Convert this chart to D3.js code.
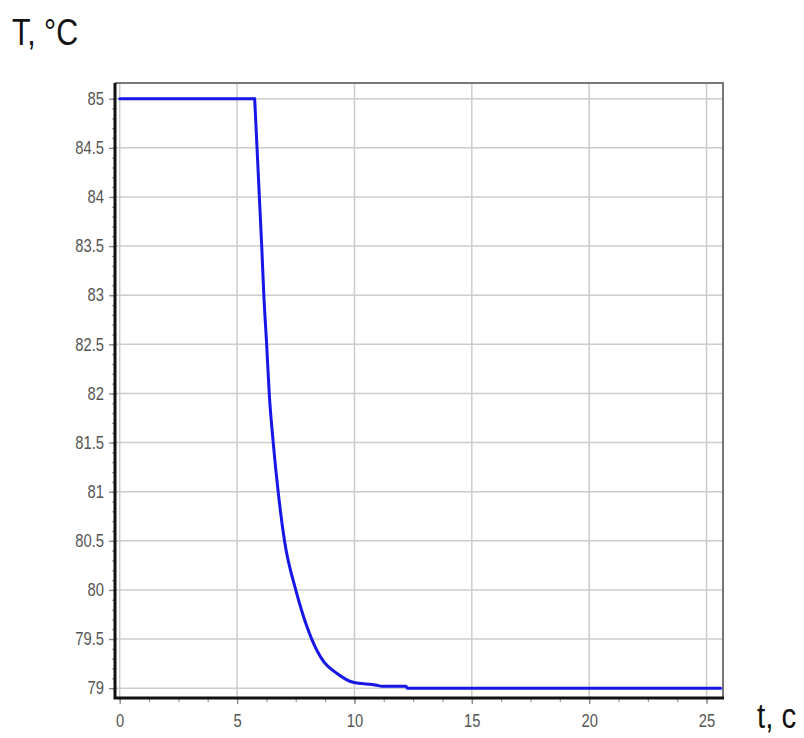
<!DOCTYPE html>
<html lang="en">
<head>
    <meta charset="utf-8">
    <script src="https://cdn.jsdelivr.net/npm/d3@7"></script>
    <style type="text/css">
        body { margin: 0; background: #fff; }
        text { font-family: "Liberation Sans", Arial, sans-serif; }
    </style>
</head>
<body>
    <script>
        // time, s
        let tValues = [0, 5.75, 6.05, 6.14, 6.26, 6.37, 6.54, 6.75, 7.02, 7.5, 7.75, 8.18, 8.66, 9.26, 9.94, 10.96, 11.15, 12.2, 12.25, 25.6];
        // temperature, °C
        let TValues = [85, 85, 83.5, 83, 82.5, 82, 81.5, 81, 80.5, 80, 79.79, 79.5, 79.28, 79.15, 79.06, 79.03, 79.02, 79.02, 79.0, 79.0];

        let xTicks = [0, 5, 10, 15, 20, 25];
        let yTicks = [79, 79.5, 80, 80.5, 81, 81.5, 82, 82.5, 83, 83.5, 84, 84.5, 85];

        let w = 804;
        let h = 738;
        let plotL = 115, plotR = 723, plotT = 83, plotB = 698;
        let squeeze = 0.82; // narrow look of the original font

        let svg = d3.select("body")
                    .append("svg")
                    .attr("width", w)
                    .attr("height", h);

        let xScale = d3.scaleLinear()
                        .domain([-0.2, 25.7])
                        .range([plotL, plotR]);
        let yScale = d3.scaleLinear()
                        .domain([78.9, 85.16])
                        .range([plotB, plotT]);

        // grid
        svg.append("g")
            .selectAll("line")
            .data(xTicks)
            .enter()
            .append("line")
            .attr("x1", (d) => xScale(d))
            .attr("x2", (d) => xScale(d))
            .attr("y1", plotT)
            .attr("y2", plotB)
            .attr("stroke", "#cccccc")
            .attr("stroke-width", 1.5);

        svg.append("g")
            .selectAll("line")
            .data(yTicks)
            .enter()
            .append("line")
            .attr("x1", plotL)
            .attr("x2", plotR)
            .attr("y1", (d) => yScale(d))
            .attr("y2", (d) => yScale(d))
            .attr("stroke", "#cccccc")
            .attr("stroke-width", 1.5);

        // frame top / right
        svg.append("path")
            .attr("d", "M" + plotL + "," + plotT + "H" + plotR + "V" + plotB)
            .attr("fill", "none")
            .attr("stroke", "#777")
            .attr("stroke-width", 2);

        // minor ticks
        let xMinor = d3.range(0, 25.01, 1.25);
        let yMinor = d3.range(79, 85.01, 0.1);

        let xMinorAxis = d3.axisBottom(xScale).tickValues(xMinor).tickSize(4).tickFormat("");
        let yMinorAxis = d3.axisLeft(yScale).tickValues(yMinor).tickSize(3).tickFormat("");

        let gxm = svg.append("g")
            .attr("transform", "translate(0," + plotB + ")")
            .call(xMinorAxis);
        let gym = svg.append("g")
            .attr("transform", "translate(" + plotL + ",0)")
            .call(yMinorAxis);
        [gxm, gym].forEach((g) => {
            g.select(".domain").remove();
            g.selectAll("line").attr("stroke", "#999").attr("stroke-width", 1.2);
        });

        // major axes
        let xAxis = d3.axisBottom(xScale).tickValues(xTicks).tickSize(6).tickPadding(10);
        let yAxis = d3.axisLeft(yScale).tickValues(yTicks).tickSize(6).tickPadding(5)
                        .tickFormat(d3.format("~g"));

        let gx = svg.append("g")
            .attr("transform", "translate(0," + plotB + ")")
            .call(xAxis);
        let gy = svg.append("g")
            .attr("transform", "translate(" + plotL + ",0)")
            .call(yAxis);

        [gx, gy].forEach((g) => {
            g.select(".domain").remove();
            g.selectAll("line").attr("stroke", "#888").attr("stroke-width", 1.3);
            g.selectAll("text")
                .style("font-size", "18px")
                .style("font-family", "'Liberation Sans', Arial, sans-serif")
                .attr("fill", "#555")
                .attr("transform", "scale(" + squeeze + ",1)");
        });
        gy.selectAll("text").attr("x", -11 / squeeze);

        // black axis lines
        svg.append("path")
            .attr("d", "M" + plotL + "," + plotT + "V" + plotB + "H" + (plotR + 1))
            .attr("fill", "none")
            .attr("stroke", "#111")
            .attr("stroke-width", 3);

        // curve: flat part straight, decay part smooth
        let pts = tValues.map((t, i) => [t, TValues[i]]);
        let flatLine = d3.line()
                    .x((d) => xScale(d[0]))
                    .y((d) => yScale(d[1]));
        let decayLine = d3.line()
                    .x((d) => xScale(d[0]))
                    .y((d) => yScale(d[1]))
                    .curve(d3.curveMonotoneX);

        svg.append("path")
            .datum(pts.slice(0, 2))
            .attr("d", flatLine)
            .attr("fill", "none")
            .attr("stroke", "#1616e6")
            .attr("stroke-width", 3)
            .attr("stroke-linecap", "round");

        svg.append("path")
            .datum(pts.slice(1))
            .attr("d", decayLine)
            .attr("fill", "none")
            .attr("stroke", "#1616e6")
            .attr("stroke-width", 3)
            .attr("stroke-linejoin", "round")
            .attr("stroke-linecap", "round");

        // axis titles
        svg.append("text")
            .attr("transform", "translate(12,45) scale(" + squeeze + ",1)")
            .style("font-size", "37px")
            .attr("fill", "#111")
            .text("T, °C");

        svg.append("text")
            .attr("transform", "translate(757,728) scale(" + squeeze + ",1)")
            .style("font-size", "36px")
            .attr("fill", "#111")
            .text("t, c");
    </script>
</body>
</html>
